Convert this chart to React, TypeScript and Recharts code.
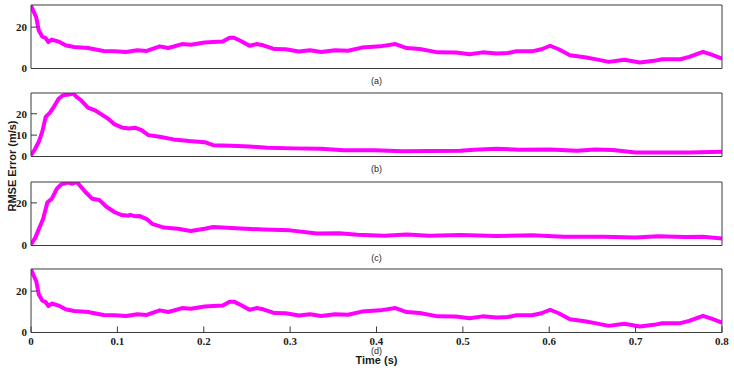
import React from 'react';
import { LineChart, Line, XAxis, YAxis, Label } from 'recharts';

// ---- data ----
const xTicks = [0, 0.1, 0.2, 0.3, 0.4, 0.5, 0.6, 0.7, 0.8];
const xTickLabels = ['0', '0.1', '0.2', '0.3', '0.4', '0.5', '0.6', '0.7', '0.8'];

const timeA = [0, 0.006, 0.009, 0.013, 0.017, 0.02, 0.024, 0.032, 0.04, 0.05, 0.066, 0.084, 0.097, 0.11, 0.123, 0.134, 0.149, 0.159, 0.175, 0.185, 0.201, 0.211, 0.222, 0.23, 0.235, 0.243, 0.253, 0.261, 0.269, 0.282, 0.295, 0.31, 0.323, 0.336, 0.352, 0.367, 0.383, 0.404, 0.422, 0.435, 0.45, 0.471, 0.492, 0.508, 0.523, 0.539, 0.552, 0.562, 0.58, 0.591, 0.601, 0.611, 0.624, 0.643, 0.656, 0.669, 0.687, 0.705, 0.721, 0.731, 0.752, 0.762, 0.778, 0.788, 0.8];
const valuesA = [30.4, 24.8, 18.4, 15.5, 14.7, 12.8, 14.0, 13.0, 11.2, 10.4, 9.9, 8.5, 8.3, 8.0, 8.8, 8.5, 10.7, 9.9, 11.8, 11.5, 12.6, 12.8, 13.0, 14.9, 14.9, 13.3, 11.0, 11.8, 11.2, 9.4, 9.3, 8.2, 8.8, 8.0, 8.8, 8.6, 10.1, 10.7, 11.8, 9.9, 9.4, 7.8, 7.7, 6.9, 7.8, 7.2, 7.5, 8.3, 8.3, 9.3, 11.0, 9.3, 6.4, 5.3, 4.3, 3.2, 4.2, 2.9, 3.7, 4.5, 4.5, 5.6, 8.0, 6.7, 4.8];

const timeB = [0, 0.004, 0.009, 0.013, 0.017, 0.022, 0.027, 0.032, 0.037, 0.045, 0.049, 0.053, 0.058, 0.066, 0.074, 0.082, 0.089, 0.097, 0.105, 0.113, 0.121, 0.128, 0.136, 0.149, 0.165, 0.183, 0.201, 0.211, 0.232, 0.253, 0.274, 0.305, 0.336, 0.362, 0.398, 0.43, 0.461, 0.497, 0.513, 0.539, 0.565, 0.601, 0.632, 0.653, 0.674, 0.7, 0.731, 0.762, 0.8];
const valuesB = [0.7, 3, 6.9, 11.5, 18.5, 20.5, 23.6, 27, 28.6, 29.1, 29.4, 27.8, 26.3, 22.9, 21.6, 19.6, 17.8, 15, 13.6, 13.1, 13.4, 12.3, 10, 9.2, 8, 7.2, 6.7, 5.3, 5, 4.7, 4.1, 3.8, 3.6, 2.9, 2.9, 2.4, 2.6, 2.7, 3.2, 3.6, 3.2, 3.3, 2.7, 3.3, 3, 1.9, 1.9, 1.9, 2.2];

const timeC = [0, 0.005, 0.009, 0.014, 0.019, 0.024, 0.03, 0.035, 0.043, 0.048, 0.053, 0.058, 0.063, 0.071, 0.079, 0.087, 0.097, 0.105, 0.113, 0.115, 0.121, 0.126, 0.134, 0.141, 0.154, 0.17, 0.185, 0.201, 0.211, 0.227, 0.248, 0.269, 0.3, 0.331, 0.357, 0.378, 0.409, 0.435, 0.461, 0.497, 0.539, 0.58, 0.617, 0.663, 0.7, 0.726, 0.757, 0.778, 0.8];
const valuesC = [0.5, 3.7, 7.6, 12.4, 20.3, 21.9, 26.7, 28.7, 29.5, 29, 29.8, 27.5, 25.1, 21.9, 21.4, 18.3, 15.6, 14.3, 14, 14.4, 13.7, 13.8, 12.4, 10, 8.4, 7.9, 6.8, 7.9, 8.7, 8.3, 7.9, 7.5, 7.1, 5.6, 5.7, 5.1, 4.6, 5.2, 4.6, 4.9, 4.4, 4.8, 4.1, 4.1, 3.7, 4.3, 4.0, 4.1, 3.3];

const timeD = timeA;
const valuesD = valuesA;

const panelLabels = ['(a)', '(b)', '(c)', '(d)'];
const yTicksA = [0, 20];
const yTicksB = [0, 10, 20];
const yTicksC = [0, 20];
const yTicksD = [0, 20];
const yMaxA = 30.7;
const yMaxB = 29.7;
const yMaxC = 29.8;
const yMaxD = 30.7;
const xTitle = 'Time (s)';
const yTitle = 'RMSE Error (m/s)';

const build = (t: number[], v: number[]) => t.map((tt, i) => ({ t: tt, v: v[i] }));

// ---- styles ----
const AX = '#3a3a3a';
const tickFont = { fontFamily: '"Liberation Serif", serif', fontWeight: 'bold', fontSize: 11, fill: '#1a1a1a' };
const labelFont = { fontFamily: '"Liberation Sans", Arial, sans-serif', fontSize: 9, fill: '#262626' };
const titleFont = { fontFamily: '"Liberation Sans", Arial, sans-serif', fontSize: 11, fontWeight: 'bold', fill: '#1a1a1a' };

type PanelProps = {
  data: { t: number; v: number }[];
  top: number;
  height: number;
  xAxisHeight: number;
  yMax: number;
  yTicks: number[];
  label: string;
  last?: boolean;
};

function Panel({ data, top, height, xAxisHeight, yMax, yTicks, label, last }: PanelProps) {
  const plotH = 63.5;
  const bottom = height - 4 - 1 - plotH - xAxisHeight;
  return (
    <div style={{ position: 'absolute', left: 0, top, width: 734, height }}>
      <LineChart width={734} height={height} data={data} margin={{ top: 4, right: 11, left: 0, bottom }}>
        <XAxis
          xAxisId="b"
          dataKey="t"
          type="number"
          domain={[0, 0.8]}
          ticks={xTicks}
          interval={0}
          orientation="bottom"
          height={xAxisHeight}
          stroke={AX}
          tickSize={-6}
          tickMargin={11}
          tick={last ? tickFont : false}
          tickFormatter={(v: number, i: number) => xTickLabels[i]}
          allowDataOverflow
        >
          <Label value={label} position="insideBottom" offset={last ? 9.5 : 0} style={labelFont} />
          {last ? <Label value={xTitle} position="insideBottom" offset={-1} style={titleFont} /> : null}
        </XAxis>
        <XAxis
          xAxisId="t"
          dataKey="t"
          type="number"
          domain={[0, 0.8]}
          ticks={xTicks}
          interval={0}
          orientation="top"
          height={1}
          stroke={AX}
          tickSize={-6}
          tick={false}
          allowDataOverflow
        />
        <YAxis
          yAxisId="l"
          type="number"
          domain={[0, yMax]}
          ticks={yTicks}
          interval={0}
          width={31}
          stroke={AX}
          tickSize={-6}
          tickMargin={10}
          tick={tickFont}
          allowDataOverflow
        />
        <YAxis
          yAxisId="r"
          orientation="right"
          type="number"
          domain={[0, yMax]}
          ticks={yTicks}
          interval={0}
          width={1}
          stroke={AX}
          tickSize={-6}
          tick={false}
          allowDataOverflow
        />
        <Line
          xAxisId="b"
          yAxisId="l"
          dataKey="v"
          type="linear"
          stroke="#ff00ff"
          strokeWidth={4}
          strokeLinejoin="round"
          dot={false}
          activeDot={false}
          isAnimationActive={false}
        />
      </LineChart>
    </div>
  );
}

export default function App() {
  return (
    <div style={{ position: 'absolute', left: 0, top: 0, width: 734, height: 370, background: '#fff', overflow: 'hidden' }}>
      <Panel data={build(timeA, valuesA)} top={0} height={88} xAxisHeight={15} yMax={yMaxA} yTicks={yTicksA} label={panelLabels[0]} />
      <Panel data={build(timeB, valuesB)} top={87.7} height={88} xAxisHeight={15} yMax={yMaxB} yTicks={yTicksB} label={panelLabels[1]} />
      <Panel data={build(timeC, valuesC)} top={176.7} height={88} xAxisHeight={15} yMax={yMaxC} yTicks={yTicksC} label={panelLabels[2]} />
      <Panel data={build(timeD, valuesD)} top={264.3} height={105.7} xAxisHeight={31} yMax={yMaxD} yTicks={yTicksD} label={panelLabels[3]} last />
      <div
        style={{
          position: 'absolute',
          left: 12,
          top: 165.5,
          transform: 'translate(-50%, -50%) rotate(-90deg)',
          whiteSpace: 'nowrap',
          fontFamily: titleFont.fontFamily,
          fontWeight: 'bold',
          fontSize: 11,
          lineHeight: '11px',
          color: '#1a1a1a',
        }}
      >
        {yTitle}
      </div>
    </div>
  );
}
